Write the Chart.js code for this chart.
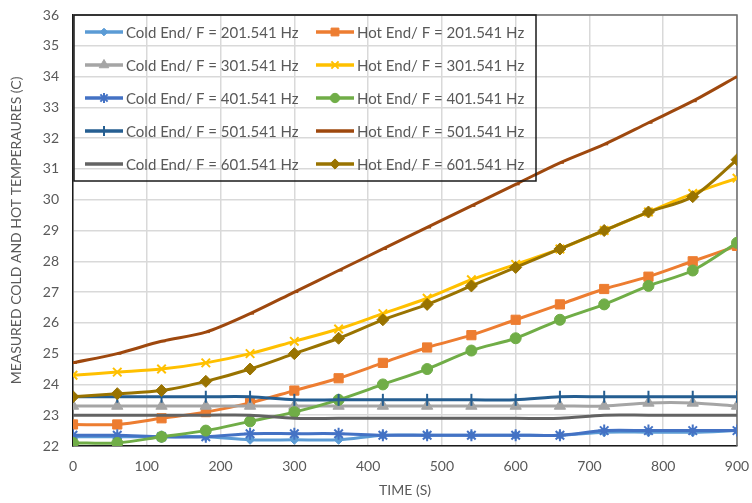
<!DOCTYPE html>
<html>
<head>
<meta charset="utf-8">
<script src="https://cdn.jsdelivr.net/npm/chart.js@4/dist/chart.umd.min.js"></script>
<style>
  html, body { margin: 0; padding: 0; background: #fff; }
  #wrap { width: 752px; height: 503px; }
</style>
</head>
<body>
<div id="wrap"><canvas id="c" width="752" height="503"></canvas></div>
<script>
// Sampling instants (s)
const times = [0, 60, 120, 180, 240, 300, 360, 420, 480, 540, 600, 660, 720, 780, 840, 900];

// Cold-end temperatures (°C)
const cold201 = [22.3, 22.3, 22.3, 22.3, 22.2, 22.2, 22.2, 22.35, 22.35, 22.35, 22.35, 22.35, 22.45, 22.45, 22.45, 22.5];
const cold301 = [23.3, 23.3, 23.3, 23.3, 23.3, 23.3, 23.3, 23.3, 23.3, 23.3, 23.3, 23.3, 23.3, 23.4, 23.4, 23.3];
const cold401 = [22.35, 22.35, 22.3, 22.3, 22.4, 22.4, 22.4, 22.35, 22.35, 22.35, 22.35, 22.35, 22.5, 22.5, 22.5, 22.5];
const cold501 = [23.6, 23.6, 23.6, 23.6, 23.6, 23.5, 23.5, 23.5, 23.5, 23.5, 23.5, 23.6, 23.6, 23.6, 23.6, 23.6];
const cold601 = [23.0, 23.0, 23.0, 23.0, 23.0, 22.9, 22.9, 22.9, 22.9, 22.9, 22.9, 22.9, 23.0, 23.0, 23.0, 23.0];

// Hot-end temperatures (°C)
const hot201 = [22.7, 22.7, 22.9, 23.1, 23.4, 23.8, 24.2, 24.7, 25.2, 25.6, 26.1, 26.6, 27.1, 27.5, 28.0, 28.5];
const hot301 = [24.3, 24.4, 24.5, 24.7, 25.0, 25.4, 25.8, 26.3, 26.8, 27.4, 27.9, 28.4, 29.0, 29.6, 30.2, 30.7];
const hot401 = [22.1, 22.1, 22.3, 22.5, 22.8, 23.1, 23.5, 24.0, 24.5, 25.1, 25.5, 26.1, 26.6, 27.2, 27.7, 28.6];
const hot501 = [24.7, 25.0, 25.4, 25.7, 26.3, 27.0, 27.7, 28.4, 29.1, 29.8, 30.5, 31.2, 31.8, 32.5, 33.2, 34.0];
const hot601 = [23.6, 23.7, 23.8, 24.1, 24.5, 25.0, 25.5, 26.1, 26.6, 27.2, 27.8, 28.4, 29.0, 29.6, 30.1, 31.3];

// Series names
const seriesNames = [
  'Cold End/ F = 201.541 Hz', 'Hot End/ F = 201.541 Hz',
  'Cold End/ F = 301.541 Hz', 'Hot End/ F = 301.541 Hz',
  'Cold End/ F = 401.541 Hz', 'Hot End/ F = 401.541 Hz',
  'Cold End/ F = 501.541 Hz', 'Hot End/ F = 501.541 Hz',
  'Cold End/ F = 601.541 Hz', 'Hot End/ F = 601.541 Hz'
];
const seriesValues = [cold201, hot201, cold301, hot301, cold401, hot401, cold501, hot501, cold601, hot601];

const xTicks = [0, 100, 200, 300, 400, 500, 600, 700, 800, 900];
const yTicks = [22, 23, 24, 25, 26, 27, 28, 29, 30, 31, 32, 33, 34, 35, 36];

const styles = [
  { color: '#5B9BD5', point: 'rectRot', r: 4.5 },
  { color: '#ED7D31', point: 'rect', r: 6.5 },
  { color: '#A5A5A5', point: 'triangle', r: 6.5 },
  { color: '#FFC000', point: 'crossRot', r: 6 },
  { color: '#4472C4', point: 'star', r: 6 },
  { color: '#70AD47', point: 'circle', r: 5.5 },
  { color: '#255E91', point: 'line', r: 6, rot: 90 },
  { color: '#9E480E', point: 'dash', r: 4 },
  { color: '#636363', point: false, r: 0 },
  { color: '#997300', point: 'rectRot', r: 6 }
];

const FONT = 'Lato, "Open Sans", sans-serif';
const TXT = '#595959';
const strokeOnly = p => p === 'crossRot' || p === 'star' || p === 'line' || p === 'dash';

const datasets = seriesValues.map((vals, i) => {
  const s = styles[i];
  return {
    label: seriesNames[i],
    data: times.map((t, k) => ({ x: t, y: vals[k] })),
    borderColor: s.color,
    backgroundColor: s.color,
    borderWidth: 3,
    pointStyle: s.point,
    pointRadius: s.r,
    pointRotation: s.rot || 0,
    pointBorderWidth: strokeOnly(s.point) ? 2 : 1,
    pointBorderColor: s.color,
    pointBackgroundColor: s.color,
    tension: 0.3,
    order: 20 - i
  };
});

// Legend box drawn inside the plot, line sample + marker per entry
const boxLegend = {
  id: 'boxLegend',
  afterDatasetsDraw(chart) {
    const ctx = chart.ctx;
    const left = chart.chartArea.left + 1, top = chart.chartArea.top;
    const w = 462, h = 166;
    ctx.save();
    ctx.strokeStyle = '#1a1a1a';
    ctx.lineWidth = 1.5;
    ctx.strokeRect(left, top, w, h);
    ctx.font = '15px ' + FONT;
    ctx.textBaseline = 'middle';
    seriesNames.forEach((name, i) => {
      const col = i % 2, row = Math.floor(i / 2);
      const x0 = left + 11 + col * 231;
      const y = top + 17 + row * 33;
      const s = styles[i];
      ctx.strokeStyle = s.color;
      ctx.fillStyle = s.color;
      ctx.lineWidth = 3.5;
      ctx.beginPath();
      ctx.moveTo(x0, y);
      ctx.lineTo(x0 + 38, y);
      ctx.stroke();
      if (s.point) {
        ctx.lineWidth = strokeOnly(s.point) ? 2 : 1;
        Chart.helpers.drawPoint(ctx, {
          pointStyle: s.point, radius: s.r * 0.85, rotation: s.rot || 0, borderWidth: ctx.lineWidth
        }, x0 + 19, y);
      }
      ctx.fillStyle = TXT;
      ctx.textAlign = 'left';
      ctx.fillText(name, x0 + 41, y + 1);
    });
    ctx.restore();
  }
};

// Dark frame around the plot area
const frame = {
  id: 'frame',
  beforeDatasetsDraw(chart) {
    const a = chart.chartArea, ctx = chart.ctx;
    ctx.save();
    ctx.strokeStyle = '#6e6e6e';
    ctx.lineWidth = 1.5;
    ctx.beginPath();
    ctx.moveTo(a.left, a.top);
    ctx.lineTo(a.right, a.top);
    ctx.lineTo(a.right, a.bottom);
    ctx.stroke();
    ctx.restore();
  }
};

new Chart(document.getElementById('c'), {
  type: 'line',
  data: { datasets },
  plugins: [frame, boxLegend],
  options: {
    responsive: false,
    animation: false,
    layout: { padding: { top: 15, right: 15, left: 0, bottom: 0 } },
    plugins: { legend: { display: false }, tooltip: { enabled: false } },
    scales: {
      x: {
        type: 'linear',
        min: 0, max: 900,
        afterBuildTicks(scale) { scale.ticks = xTicks.map(v => ({ value: v })); },
        afterFit(scale) { scale.height = 57; scale.paddingLeft = 0; scale.paddingRight = 0; },
        grid: { color: '#D9D9D9', lineWidth: 1.5, drawTicks: false },
        border: { color: '#1a1a1a', width: 1.5 },
        ticks: { color: TXT, font: { family: FONT, size: 14 }, padding: 12, maxRotation: 0 },
        title: { display: true, text: 'TIME (S)', color: TXT, font: { family: FONT, size: 14 }, padding: { top: 4 } }
      },
      y: {
        min: 22, max: 36,
        afterBuildTicks(scale) { scale.ticks = yTicks.map(v => ({ value: v })); },
        afterFit(scale) { scale.width = 73; scale.paddingTop = 0; scale.paddingBottom = 0; },
        grid: { color: '#D9D9D9', lineWidth: 1.5, drawTicks: false },
        border: { color: '#1a1a1a', width: 1.5 },
        ticks: { color: TXT, font: { family: FONT, size: 14 }, padding: 14 },
        title: { display: true, text: 'MEASURED COLD AND HOT TEMPERAURES (C)', color: TXT, font: { family: FONT, size: 14 }, padding: { top: 8, bottom: 0 } }
      }
    }
  }
});
</script>
</body>
</html>
